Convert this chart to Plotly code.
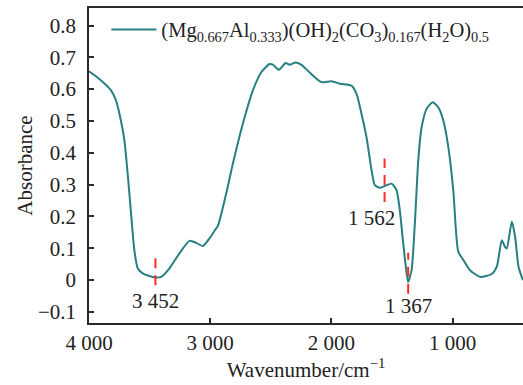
import numpy as np
import plotly.graph_objects as go

# ---- data ----
wavenumber = [4000, 3915, 3818, 3777, 3736, 3708, 3681, 3653, 3626, 3598, 3557, 3502,
              3452, 3405, 3336, 3254, 3171, 3116, 3061, 3006, 2964, 2937, 2868, 2813,
              2731, 2648, 2579, 2510, 2483, 2433, 2378, 2345, 2295, 2250, 2179, 2083,
              2000, 1931, 1835, 1793, 1752, 1711, 1669, 1642, 1601, 1562, 1504, 1463,
              1436, 1408, 1380, 1367, 1339, 1312, 1284, 1256, 1215, 1165, 1119, 1078,
              1036, 995, 954, 912, 857, 774, 678, 636, 595, 568, 554, 512, 485, 457, 421]
absorbance = [0.656, 0.632, 0.596, 0.564, 0.500, 0.439, 0.334, 0.209, 0.094, 0.037, 0.021, 0.0125,
              0.008, 0.010, 0.037, 0.084, 0.123, 0.117, 0.107, 0.131, 0.155, 0.170, 0.272, 0.366,
              0.491, 0.596, 0.653, 0.679, 0.677, 0.661, 0.682, 0.677, 0.684, 0.677, 0.652, 0.622,
              0.625, 0.617, 0.611, 0.585, 0.522, 0.449, 0.345, 0.298, 0.290, 0.295, 0.303, 0.282,
              0.219, 0.115, 0.021, -0.006, 0.031, 0.178, 0.376, 0.481, 0.538, 0.559, 0.543, 0.502,
              0.418, 0.282, 0.089, 0.063, 0.031, 0.010, 0.019, 0.042, 0.125, 0.104, 0.099, 0.183,
              0.136, 0.042, 0.000]
series_name = "(Mg<sub>0.667</sub>Al<sub>0.333</sub>)(OH)<sub>2</sub>(CO<sub>3</sub>)<sub>0.167</sub>(H<sub>2</sub>O)<sub>0.5</sub>"

peak_wn = [3452, 1562, 1367]
peak_labels = ["3 452", "1 562", "1 367"]

x_tickvals = [4000, 3000, 2000, 1000]
x_ticktext = ["4 000", "3 000", "2 000", "1 000"]
y_tickvals = [-0.1, 0, 0.1, 0.2, 0.3, 0.4, 0.5, 0.6, 0.7, 0.8]

# ---- styling ----
LINE_COLOR = "#267f80"
MARK_COLOR = "#ff2a2a"
TEXT_COLOR = "#222222"
AXIS_COLOR = "#2a2a2a"
FONT = "Times New Roman, Liberation Serif, serif"
# marker extents (data units relative to curve) and label offsets (px)
marker_up = [0.070, 0.087, 0.092]
marker_down = [0.024, 0.050, 0.037]
label_dx = [0, -13, 0]
label_dy = [-23, -32, -24]

fig = go.Figure()
fig.add_trace(go.Scatter(
    x=wavenumber, y=absorbance, mode="lines", name=series_name,
    line=dict(color=LINE_COLOR, width=2, shape="spline", smoothing=0.6),
))

wn_sorted = np.array(wavenumber[::-1], dtype=float)
ab_sorted = np.array(absorbance[::-1], dtype=float)
for i, (pw, lab) in enumerate(zip(peak_wn, peak_labels)):
    yc = float(np.interp(pw, wn_sorted, ab_sorted))
    fig.add_shape(type="line", xref="x", yref="y", x0=pw, x1=pw,
                  y0=yc - marker_down[i], y1=yc + marker_up[i],
                  line=dict(color=MARK_COLOR, width=2, dash="10px,7px"))
    fig.add_annotation(x=pw, y=yc, xref="x", yref="y", text=lab, showarrow=False,
                       xshift=label_dx[i], yshift=label_dy[i],
                       font=dict(family=FONT, size=21, color=TEXT_COLOR))

fig.update_layout(
    width=523, height=385,
    margin=dict(l=89, r=0, t=8, b=62),
    paper_bgcolor="white", plot_bgcolor="white",
    font=dict(family=FONT, size=21, color=TEXT_COLOR),
    showlegend=True,
    legend=dict(x=0.04, y=0.995, xanchor="left", yanchor="top",
                bgcolor="rgba(0,0,0,0)", font=dict(family=FONT, size=20.5, color=TEXT_COLOR),
                itemwidth=45),
)
fig.update_xaxes(
    range=[4000, 420], tickvals=x_tickvals, ticktext=x_ticktext,
    ticks="inside", ticklen=5, tickwidth=1.5, tickcolor=AXIS_COLOR,
    tickfont=dict(family=FONT, size=21, color=TEXT_COLOR),
    showline=True, linecolor=AXIS_COLOR, linewidth=1.5, mirror=True,
    showgrid=False, zeroline=False,
    title=dict(text="Wavenumber/cm<sup>−1</sup>", font=dict(family=FONT, size=21, color=TEXT_COLOR), standoff=7),
)
fig.update_yaxes(
    range=[-0.135, 0.855], tickvals=y_tickvals,
    ticks="inside", ticklen=5, tickwidth=1.5, tickcolor=AXIS_COLOR,
    tickfont=dict(family=FONT, size=21, color=TEXT_COLOR), ticklabelstandoff=7,
    showline=True, linecolor=AXIS_COLOR, linewidth=1.5,
    showgrid=False, zeroline=False,
    title=dict(text="Absorbance", font=dict(family=FONT, size=21, color=TEXT_COLOR), standoff=0),
)

fig.write_html("out.html")
